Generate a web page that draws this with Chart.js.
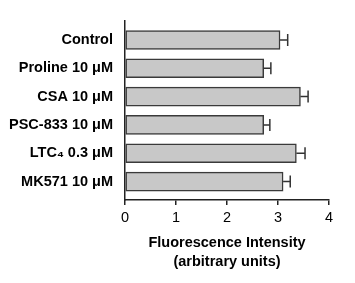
<!DOCTYPE html>
<html lang="en">
<head>
    <meta charset="UTF-8">
    <title>Fluorescence Intensity</title>
    <script src="https://cdn.jsdelivr.net/npm/chart.js"></script>
    <style>
        * {
            margin: 0;
            padding: 0;
            box-sizing: border-box;
        }

        body {
            background: #ffffff;
        }

        .chart-box {
            width: 355px;
            height: 283px;
            position: relative;
        }
    </style>
</head>
<body>
    <div class="chart-box">
        <canvas id="fluoChart"></canvas>
    </div>
    <script>
        // Data
        const groups = ['Control', 'Proline 10 μM', 'CSA 10 μM', 'PSC-833 10 μM', 'LTC₄ 0.3 μM', 'MK571 10 μM'];
        const intensity = [3.04, 2.72, 3.44, 2.72, 3.36, 3.10];
        const sem = [0.15, 0.14, 0.15, 0.12, 0.17, 0.14];
        const xTicks = [0, 1, 2, 3, 4];

        // One-sided error bars (to the right of each bar)
        const errorBars = {
            id: 'errorBars',
            afterDatasetsDraw(chart) {
                const ctx = chart.ctx;
                const xScale = chart.scales.x;
                const meta = chart.getDatasetMeta(0);
                ctx.save();
                ctx.strokeStyle = '#333333';
                ctx.lineWidth = 1.5;
                meta.data.forEach((bar, i) => {
                    const x0 = xScale.getPixelForValue(intensity[i]);
                    const x1 = xScale.getPixelForValue(intensity[i] + sem[i]);
                    ctx.beginPath();
                    ctx.moveTo(x0, bar.y);
                    ctx.lineTo(x1, bar.y);
                    ctx.moveTo(x1, bar.y - 6);
                    ctx.lineTo(x1, bar.y + 6);
                    ctx.stroke();
                });
                ctx.restore();
            }
        };

        const ctx = document.getElementById('fluoChart').getContext('2d');
        new Chart(ctx, {
            type: 'bar',
            data: {
                datasets: [{
                    data: intensity.map((v, i) => ({ x: v, y: i })),
                    backgroundColor: '#c8c8c8',
                    borderColor: '#3a3a3a',
                    borderWidth: 1.5,
                    borderSkipped: false,
                    barThickness: 19
                }]
            },
            options: {
                indexAxis: 'y',
                responsive: true,
                maintainAspectRatio: false,
                animation: false,
                layout: {
                    padding: { top: 20, right: 26, bottom: 0, left: 0 }
                },
                plugins: {
                    legend: { display: false },
                    tooltip: { enabled: false }
                },
                scales: {
                    x: {
                        type: 'linear',
                        min: 0,
                        max: 4,
                        afterBuildTicks: (scale) => {
                            scale.ticks = xTicks.map(v => ({ value: v }));
                        },
                        afterFit: (scale) => {
                            scale.height = 83;
                        },
                        grid: {
                            drawOnChartArea: false,
                            drawTicks: true,
                            tickLength: 5,
                            color: '#222222',
                            lineWidth: 1.5
                        },
                        border: { color: '#222222', width: 1.5 },
                        ticks: {
                            color: '#000000',
                            padding: 4,
                            font: { family: 'Liberation Sans, Arial, sans-serif', size: 14.5 }
                        },
                        title: {
                            display: true,
                            text: ['Fluorescence Intensity', '(arbitrary units)'],
                            color: '#000000',
                            padding: { top: 4, bottom: 12 },
                            font: { family: 'Liberation Sans, Arial, sans-serif', size: 14.5, weight: 'bold', lineHeight: 1.31 }
                        }
                    },
                    y: {
                        type: 'linear',
                        offset: false,
                        reverse: true,
                        min: -0.68,
                        max: 5.65,
                        afterBuildTicks: (scale) => {
                            scale.ticks = groups.map((g, i) => ({ value: i }));
                        },
                        afterFit: (scale) => {
                            scale.width = 125;
                        },
                        grid: { display: false, drawTicks: false },
                        border: { color: '#222222', width: 1.5 },
                        ticks: {
                            color: '#000000',
                            padding: 12,
                            font: { family: 'Liberation Sans, Arial, sans-serif', size: 14.5, weight: 'bold' },
                            callback: (value) => groups[value]
                        }
                    }
                }
            },
            plugins: [errorBars]
        });
    </script>
</body>
</html>
